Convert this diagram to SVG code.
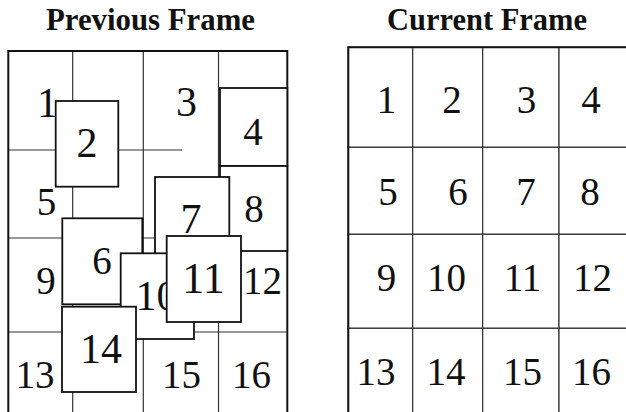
<svg xmlns="http://www.w3.org/2000/svg" width="626" height="412" viewBox="0 0 626 412">
<style>
.title{font-family:"Liberation Serif","Times New Roman",serif;font-weight:bold;font-size:32px;fill:#111}
.n{font-family:"Liberation Serif","Times New Roman",serif;font-size:39px;fill:#111;text-anchor:middle}
.big{font-size:42px}
.grid{stroke:#333;stroke-width:1.2;fill:none}
.box{stroke:#111;stroke-width:1.8;fill:#fff}
.cell{stroke:#333;stroke-width:1.2;fill:#fff}
.outer{stroke:#111;stroke-width:2;fill:none}
</style>
<rect width="626" height="412" fill="#fff"/>
<text class="title" x="46" y="30" textLength="209" lengthAdjust="spacingAndGlyphs">Previous Frame</text>
<text class="title" x="387" y="30" textLength="200" lengthAdjust="spacingAndGlyphs">Current Frame</text>

<g id="previous-frame">
  <g id="prev-grid">
    <path class="grid" d="M72.7,51V412 M143.3,51V412 M218.5,51V412 M8,150H182 M8,238H155 M8,332H287"/>
    <path class="outer" d="M8.3,412V51H287.3V412"/>
  </g>
  <g id="prev-1"><text class="n big" x="47.5" y="117">1</text></g>
  <g id="prev-3"><text class="n big" x="186.5" y="116">3</text></g>
  <g id="prev-5"><text class="n" x="46.5" y="215">5</text></g>
  <g id="prev-9"><text class="n" x="46" y="294">9</text></g>
  <g id="prev-12"><text class="n" x="262.5" y="294">12</text></g>
  <g id="prev-13"><text class="n" x="35" y="388">13</text></g>
  <g id="prev-15"><text class="n" x="181.5" y="388">15</text></g>
  <g id="prev-16"><text class="n" x="251.5" y="388">16</text></g>
  <g id="prev-2"><rect class="box" x="55.7" y="101" width="62.6" height="85.7"/><text class="n big" x="87" y="157">2</text></g>
  <g id="prev-4"><rect class="box" x="220" y="88" width="67.3" height="78"/><text class="n" x="253" y="145">4</text></g>
  <g id="prev-8"><rect class="box" x="220" y="166" width="67.3" height="85"/><text class="n" x="254" y="222">8</text></g>
  <g id="prev-7"><rect class="box" x="155" y="177" width="74.3" height="85"/><text class="n big" x="191" y="233">7</text></g>
  <g id="prev-6"><rect class="box" x="62.3" y="218.3" width="80" height="86"/><text class="n" x="102" y="274">6</text></g>
  <g id="prev-10"><rect class="box" x="120.7" y="253.3" width="73.3" height="85.7"/><text class="n big" x="135.5" y="310" style="text-anchor:start">10</text></g>
  <g id="prev-11"><rect class="box" x="166.7" y="236" width="74.3" height="86"/><text class="n" x="203.5" y="293" style="font-size:44px">11</text></g>
  <g id="prev-14"><rect class="box" x="62" y="306.7" width="74" height="85.3"/><text class="n big" x="101" y="363">14</text></g>
</g>

<g id="current-frame">
  <g id="cur-1"><rect class="cell" x="348.3" y="47.3" width="64.4" height="100"/><text class="n" x="386.5" y="113">1</text></g>
  <g id="cur-2"><rect class="cell" x="412.7" y="47.3" width="70" height="100"/><text class="n" x="452" y="113">2</text></g>
  <g id="cur-3"><rect class="cell" x="482.7" y="47.3" width="76.3" height="100"/><text class="n" x="526.5" y="113">3</text></g>
  <g id="cur-4"><rect class="cell" x="559" y="47.3" width="80" height="100"/><text class="n" x="591" y="113">4</text></g>
  <g id="cur-5"><rect class="cell" x="348.3" y="147.3" width="64.4" height="87"/><text class="n" x="388" y="205">5</text></g>
  <g id="cur-6"><rect class="cell" x="412.7" y="147.3" width="70" height="87"/><text class="n" x="458" y="205">6</text></g>
  <g id="cur-7"><rect class="cell" x="482.7" y="147.3" width="76.3" height="87"/><text class="n" x="526" y="205">7</text></g>
  <g id="cur-8"><rect class="cell" x="559" y="147.3" width="80" height="87"/><text class="n" x="590" y="205">8</text></g>
  <g id="cur-9"><rect class="cell" x="348.3" y="234.3" width="64.4" height="94"/><text class="n" x="386.5" y="291">9</text></g>
  <g id="cur-10"><rect class="cell" x="412.7" y="234.3" width="70" height="94"/><text class="n" x="446.5" y="291">10</text></g>
  <g id="cur-11"><rect class="cell" x="482.7" y="234.3" width="76.3" height="94"/><text class="n" x="522.5" y="291">11</text></g>
  <g id="cur-12"><rect class="cell" x="559" y="234.3" width="80" height="94"/><text class="n" x="592.5" y="291">12</text></g>
  <g id="cur-13"><rect class="cell" x="348.3" y="328.3" width="64.4" height="100"/><text class="n" x="376" y="385">13</text></g>
  <g id="cur-14"><rect class="cell" x="412.7" y="328.3" width="70" height="100"/><text class="n" x="446" y="385">14</text></g>
  <g id="cur-15"><rect class="cell" x="482.7" y="328.3" width="76.3" height="100"/><text class="n" x="522.5" y="385">15</text></g>
  <g id="cur-16"><rect class="cell" x="559" y="328.3" width="80" height="100"/><text class="n" x="591.5" y="385">16</text></g>
  <path class="outer" d="M348.3,412V47.3H626"/>
</g>
<g id="connectors"/>
</svg>
